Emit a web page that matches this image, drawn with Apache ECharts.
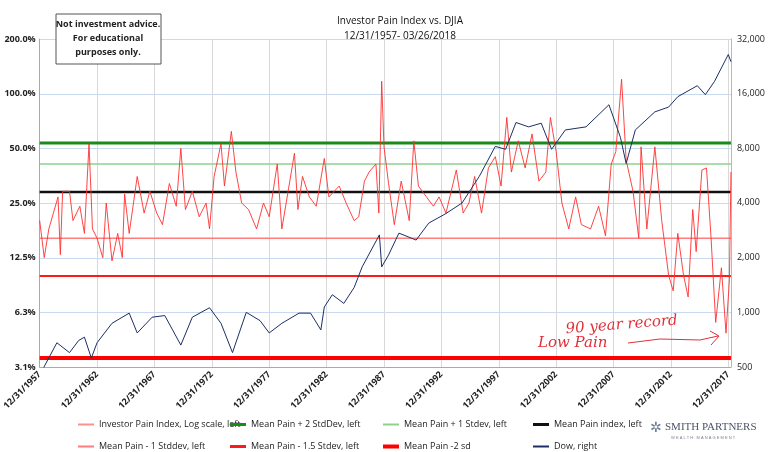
<!DOCTYPE html>
<html><head><meta charset="utf-8">
<script src="https://cdn.jsdelivr.net/npm/echarts@6/dist/echarts.min.js"></script>
<style>html,body{margin:0;background:#fff}#c{width:768px;height:452px}</style>
</head><body><div id="c"></div>
<script>
const painYears=[1958.0,1958.4,1958.8,1959.6,1959.8,1960.0,1960.6,1960.9,1961.5,1961.9,1962.3,1962.6,1963.0,1963.5,1963.8,1964.3,1964.8,1965.2,1965.4,1965.8,1966.5,1967.1,1967.6,1968.2,1968.7,1969.3,1969.9,1970.3,1970.7,1971.3,1971.9,1972.5,1972.8,1973.2,1973.8,1974.1,1974.7,1975.1,1975.6,1976.2,1976.9,1977.5,1978.0,1978.7,1979.1,1980.2,1980.5,1980.9,1981.5,1982.1,1982.8,1983.2,1984.1,1984.7,1985.4,1985.8,1986.3,1986.7,1987.3,1987.55,1987.8,1988.0,1988.4,1988.9,1989.5,1990.2,1990.6,1991.0,1991.7,1992.3,1992.8,1993.4,1994.3,1994.9,1995.4,1995.9,1996.5,1997.1,1997.7,1998.2,1998.7,1999.1,1999.7,2000.3,2000.9,2001.5,2002.1,2002.5,2003.0,2003.5,2004.1,2004.7,2005.2,2006.0,2006.7,2007.3,2007.8,2008.2,2008.7,2009.1,2009.7,2010.2,2010.4,2010.9,2011.6,2012.2,2012.8,2013.2,2013.6,2014.1,2014.5,2014.9,2015.2,2015.7,2016.1,2016.5,2016.9,2017.4,2017.8,2018.1,2018.23];
const painValues=[20,12.5,18,27,13,29,29,20,24,17,53,18,16,12.5,25,12,17,12.5,28,17,35,22,29,22,19,32,24,50,23,29,21,25,18,35,53,31,62,37,25,23,18,25,21,41,18,47,23,35,27,24,44,27,31,25,20,21,33,37,41,22,117,51,32,19,33,20,55,31,27,24,27,22,38,22,25,35,22,39,45,31,74,37,55,39,60,33,37,74,48,25,18,27,19,18,24,16.5,41,48,120,43,29,16,51,18,51,20,10,8.2,17,10,7.6,23,13.5,38,39,16,5.5,11,4.8,9.5,37];
const dowYears=[1957.99,1959.5,1960.6,1961.4,1961.9,1962.5,1963.0,1964.3,1965.8,1966.5,1967.8,1968.9,1970.3,1971.3,1972.8,1973.8,1974.8,1976.0,1977.2,1978.0,1979.1,1980.6,1981.6,1982.5,1982.8,1983.5,1984.5,1985.4,1986.1,1987.6,1987.8,1988.4,1989.3,1990.8,1991.9,1993.4,1994.8,1996.3,1997.7,1998.6,1999.5,2000.6,2001.7,2002.6,2003.8,2005.6,2007.6,2008.6,2009.1,2009.9,2011.6,2012.8,2013.6,2015.3,2016.0,2016.8,2018.0,2018.23];
const dowValues=[450,680,600,700,730,560,680,870,990,770,940,960,660,940,1060,870,600,1000,900,770,870,990,990,800,1070,1250,1120,1370,1780,2670,1780,2070,2730,2500,3100,3500,4000,5600,8200,7900,11100,10500,11000,7900,10100,10500,13900,9200,6600,10100,12700,13500,15400,17700,15800,18700,26300,24000];
const levelNames=['Mean Pain + 2 StdDev, left','Mean Pain + 1 Stdev, left','Mean Pain index, left','Mean Pain - 1 Stddev, left','Mean Pain - 1.5 Stdev, left','Mean Pain -2 sd'];
const levelValues=[53.5,41,28.7,16,9.9,3.5];
const levelColors=['#1a8a1a','#8fd08f','#111111','#ff7d7d','#ff1a1a','#ff0000'];
const levelWidths=[3,1.5,2.5,1.5,2,4];
const painName='Investor Pain Index, Log scale, left', dowName='Dow, right';
const base=1958, endX=60.23;
const painMin=3.125, painMax=200, dowMin=500, dowMax=32000;

const series=[{name:painName,type:'line',yAxisIndex:0,showSymbol:false,lineStyle:{color:'#ff3030',width:0.9},itemStyle:{color:'#ff9090'},
  data:painYears.map((y,i)=>[y-base,painValues[i]]),z:3}];
levelNames.forEach((n,i)=>series.push({name:n,type:'line',yAxisIndex:0,showSymbol:false,silent:true,
  lineStyle:{color:levelColors[i],width:levelWidths[i]},itemStyle:{color:levelColors[i]},data:[[0,levelValues[i]],[endX,levelValues[i]]],z:2}));
series.push({name:dowName,type:'line',yAxisIndex:1,showSymbol:false,lineStyle:{color:'#1c2f66',width:1},itemStyle:{color:'#1c2f66'},
  data:dowYears.map((y,i)=>[y-base,dowValues[i]]),z:4});

const order=[painName,levelNames[0],levelNames[1],levelNames[2],levelNames[3],levelNames[4],levelNames[5],dowName];
const iconH=[2,3,2,3,2,3,4,2];
const lx=[78,230,383,533], ly=[420,442];
const legends=order.map((n,i)=>({data:[n],left:lx[i%4],top:ly[Math.floor(i/4)],itemWidth:16,itemHeight:iconH[i],itemGap:4,
  textStyle:{fontSize:9,color:'#222',fontFamily:'Open Sans'},icon:'rect',padding:0}));

const snap=(v,m)=>m*Math.pow(2,Math.round(Math.log2(v/m)));
const chart=echarts.init(document.getElementById('c'),null,{renderer:'canvas'});
chart.setOption({
  animation:false,
  title:{text:'Investor Pain Index vs. DJIA\n12/31/1957- 03/26/2018',left:395,textAlign:'center',top:9,
    textStyle:{fontSize:10,fontWeight:'normal',color:'#111',lineHeight:15,fontFamily:'Open Sans'}},
  grid:{left:38,right:35,top:39,bottom:85},
  legend:legends,
  xAxis:{type:'value',min:0,max:endX,interval:5,
    axisLine:{lineStyle:{color:'#aaa'}},axisTick:{show:false},
    splitLine:{show:true,lineStyle:{color:'#d8d8d8'}},
    axisLabel:{rotate:45,showMaxLabel:false,fontSize:9,fontWeight:'bold',color:'#222',fontFamily:'Open Sans',margin:6,
      formatter:v=>'12/31/'+(1957+v)}},
  yAxis:[{type:'log',logBase:2,min:painMin,max:painMax,interval:1,position:'left',
      axisLine:{show:true,lineStyle:{color:'#aaa'}},axisTick:{show:false},
      splitLine:{show:true,lineStyle:{color:'#c9daf0'}},
      axisLabel:{formatter:v=>snap(v,painMin).toFixed(1)+'%',fontSize:9,fontWeight:'bold',color:'#222',margin:4,fontFamily:'Open Sans'}},
    {type:'log',logBase:2,min:dowMin,max:dowMax,interval:1,position:'right',
      axisLine:{show:true,lineStyle:{color:'#9fbbe6'}},axisTick:{show:false},splitLine:{show:false},
      axisLabel:{formatter:v=>snap(v,dowMin).toLocaleString('en-US'),fontSize:9,color:'#222',margin:6,fontFamily:'Open Sans'}}],
  series:series,
  graphic:[
    {type:'rect',shape:{x:56,y:14,width:105,height:50},style:{fill:'#fff',stroke:'#555',lineWidth:1},z:10},
    {type:'text',x:108,y:17,z:11,style:{text:'Not investment advice.\nFor educational\npurposes only.',align:'center',
      fontSize:9,fontWeight:'bold',fill:'#222',lineHeight:14,fontFamily:'Open Sans'}},
    {type:'text',x:565,y:322,z:11,rotation:0.08,style:{text:'90 year record',fontSize:15,fill:'#e0303a',fontStyle:'italic',fontFamily:'DejaVu Serif'}},
    {type:'text',x:538,y:336,z:11,style:{text:'Low Pain',fontSize:15,fill:'#e0303a',fontStyle:'italic',fontFamily:'DejaVu Serif',letterSpacing:4}},
    {type:'polyline',z:11,shape:{points:[[628,343],[660,339],[700,340],[718,336]]},style:{stroke:'#e0303a',lineWidth:1,fill:null}},
    {type:'polyline',z:11,shape:{points:[[710,331],[719,336],[711,345]]},style:{stroke:'#e0303a',lineWidth:1,fill:null}},
    {type:'text',x:665,y:422,style:{text:'SMITH PARTNERS',fontSize:11,fill:'#4b5566',fontFamily:'Liberation Serif'}},
    {type:'text',x:671,y:436,style:{text:'W E A L T H   M A N A G E M E N T',fontSize:4,fill:'#7a8290',fontFamily:'Liberation Sans'}},
    {type:'text',x:650,y:421,style:{text:'✲',fontSize:14,fill:'#6a7a94'}}
  ]
});
</script></body></html>
